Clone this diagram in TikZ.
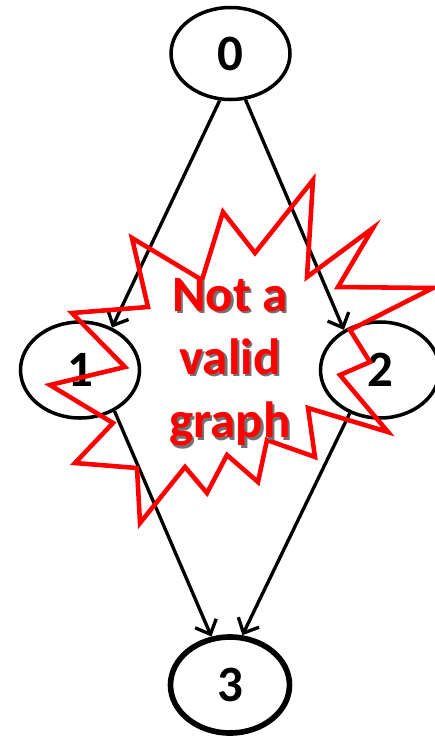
\documentclass[tikz,border=0pt]{standalone}
\usepackage{fontspec}
\setmainfont{Carlito}
\usetikzlibrary{arrows.meta,shapes.geometric}
\begin{document}
\begin{tikzpicture}[>={Straight Barb[length=2.4mm,width=4.6mm]},
  vert/.style={draw,ellipse,line width=2pt,minimum width=2.38cm,minimum height=1.92cm,inner sep=0pt,font=\bfseries\fontsize{29}{34}\selectfont},
  bang/.style={align=center,font=\bfseries\fontsize{29}{36}\selectfont}]
\useasboundingbox (0,0) rectangle (8.7,-14.74);
\node[vert,minimum height=1.84cm] (n0) at (4.61,-1.07) {0};
\node[vert] (n1) at (1.6,-7.4) {1};
\node[vert] (n2) at (7.6,-7.4) {2};
\node[vert,line width=3.2pt] (n3) at (4.6,-13.7) {3};
\draw[->,line width=1.9pt] (n0.257)--(n1.53);
\draw[->,line width=1.9pt] (n0.288)--(n2.132);
\draw[->,line width=1.9pt] (n1.310)--(n3.111);
\draw[->,line width=1.9pt] (n2.235)--(n3.76);
% the burst
\draw[red,line width=2.6pt] (6.26,-3.60) -- (5.10,-5.06) -- (4.46,-4.24) -- (4.04,-5.60)
  -- (2.64,-4.76) -- (2.96,-6.14) -- (1.44,-6.26) -- (2.50,-7.34) -- (1.00,-7.70)
  -- (2.26,-8.46) -- (1.50,-9.26) -- (2.74,-9.36) -- (2.80,-10.46) -- (3.70,-9.34)
  -- (4.14,-9.86) -- (4.54,-9.10) -- (5.16,-9.64) -- (5.34,-8.80) -- (6.30,-9.14)
  -- (6.16,-8.16) -- (7.76,-8.64) -- (6.80,-7.50) -- (7.40,-7.24) -- (7.00,-6.60)
  -- (8.66,-5.76) -- (6.76,-5.74) -- (7.46,-4.56) -- (6.14,-5.54) -- cycle;
\node[bang,black!55] (shadow) at (4.645,-7.295) {Not a\\valid\\graph};
\node[bang,red] (msg) at (4.6,-7.25) {Not a\\valid\\graph};
\end{tikzpicture}
\end{document}
